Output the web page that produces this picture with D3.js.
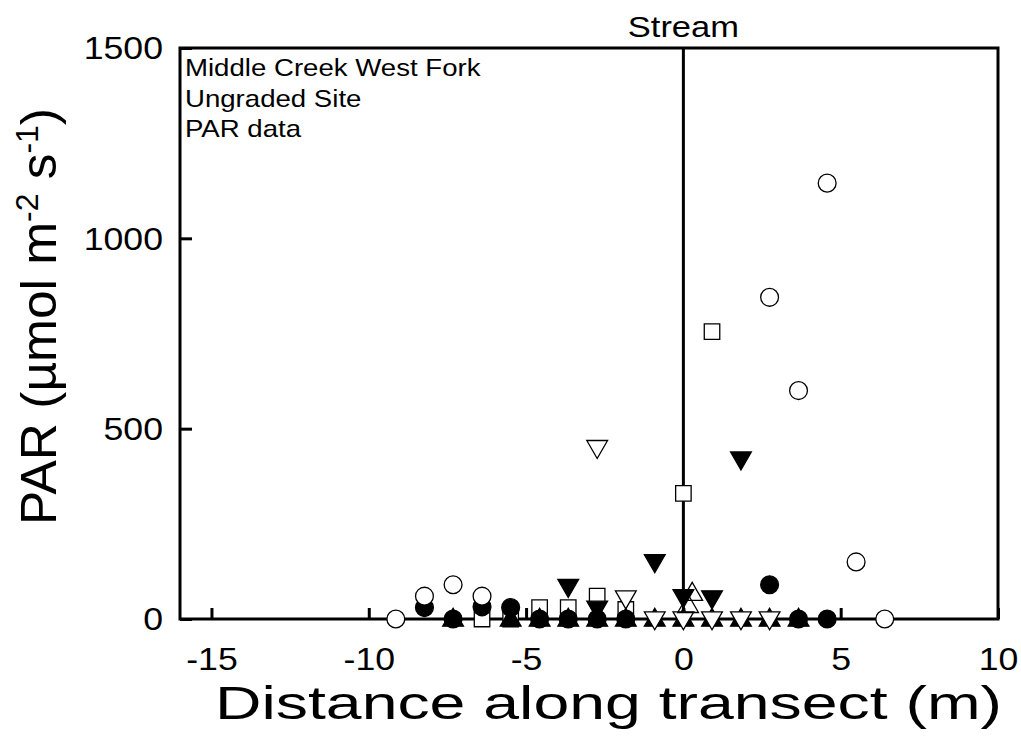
<!DOCTYPE html>
<html>
<head>
<meta charset="utf-8">
<script src="https://cdn.jsdelivr.net/npm/d3@7"></script>
<style>
  body { margin: 0; background: #fff; }
  text { font-family: "Liberation Sans", Arial, sans-serif; fill: #000; }
</style>
</head>
<body>
<div id="chart"></div>
<script>
// transect stations (3 ft apart), metres
const distances = [-9.14, -8.23, -7.32, -6.40, -5.49, -4.57, -3.66, -2.74, -1.83, -0.91, 0, 0.91, 1.83, 2.74, 3.66, 4.57, 5.49, 6.40];

// PAR per station, null = no reading
const openSquare   = [null, null, null, 0, 0, 30, 30, 60, 25, null, 330, 755, null, null, null, null, null, null];
const filledCircle = [null, 30, 0, 32, 30, 0, 0, 0, 0, null, null, null, null, 90, 0, 0, null, null];
const filledTriUp  = [null, null, 0, null, 0, 0, 0, 0, 0, 0, 0, 0, 0, 0, 0, null, null, null];
const filledTriDn  = [null, null, null, null, null, null, 85, 28, null, 150, 58, 55, 420, null, null, null, null, null];
const openTriDn    = [null, null, null, null, null, null, null, 450, 55, 0, 0, 0, 0, 0, null, null, null, null];
const openCircle   = [0, 60, 90, 60, null, null, null, null, null, null, null, null, null, 845, 600, 1145, 150, 0];
const openTriUpX   = [0.28, 0.15];
const openTriUp    = [68, 36];

const xTicks = [-15, -10, -5, 0, 5, 10];
const yTicks = [0, 500, 1000, 1500];
const noteLines = ["Middle Creek West Fork", "Ungraded Site", "PAR data"];

const margin = { top: 48, right: 23, bottom: 131, left: 180 };
const width = 1021 - margin.left - margin.right;
const height = 750 - margin.top - margin.bottom;
const stretch = 1.15; // the original lettering is a bit wide

const svg = d3.select("#chart").append("svg")
  .attr("width", 1021)
  .attr("height", 750);

const g = svg.append("g")
  .attr("transform", `translate(${margin.left},${margin.top})`);

const x = d3.scaleLinear().domain([-16, 10]).range([0, width]);
const y = d3.scaleLinear().domain([0, 1500]).range([height, 0]);

// ticks point inward
const xAxis = g.append("g")
  .attr("transform", `translate(0,${height})`)
  .call(d3.axisBottom(x).tickValues(xTicks).tickFormat((d) => String(d))
    .tickSizeInner(-11).tickSizeOuter(0));
const yAxis = g.append("g")
  .call(d3.axisLeft(y).tickValues(yTicks).tickFormat((d) => String(d))
    .tickSizeInner(-12).tickSizeOuter(0));

[xAxis, yAxis].forEach((ax) => {
  ax.select(".domain").remove();
  ax.selectAll("line").attr("stroke", "#000").attr("stroke-width", 3);
  ax.selectAll("text")
    .attr("font-size", 31)
    .attr("font-family", "Liberation Sans, Arial, sans-serif");
});
xAxis.selectAll("text")
  .attr("y", 0).attr("dy", 0)
  .attr("transform", `translate(0,51) scale(${stretch},1)`);
yAxis.selectAll("text")
  .attr("x", 0).attr("dy", "0.35em")
  .attr("transform", `translate(-17,0) scale(${stretch},1)`);

// frame
g.append("rect")
  .attr("width", width)
  .attr("height", height)
  .attr("fill", "none")
  .attr("stroke", "#000")
  .attr("stroke-width", 3);

// stream line at 0
g.append("line")
  .attr("x1", x(0)).attr("x2", x(0))
  .attr("y1", 0).attr("y2", height)
  .attr("stroke", "#000")
  .attr("stroke-width", 3);

g.append("text")
  .attr("transform", `translate(${x(0)},-11) scale(${stretch},1)`)
  .attr("text-anchor", "middle")
  .attr("font-size", 30)
  .text("Stream");

noteLines.forEach((t, i) => {
  g.append("text")
    .attr("transform", `translate(5,${28 + i * 30.5}) scale(${stretch},1)`)
    .attr("font-size", 24)
    .text(t);
});

const sym = (type, size) => d3.symbol().type(type).size(size)();
const triDown = {
  draw(ctx, size) {
    const r = Math.sqrt(size / (3 * Math.sqrt(3) / 4)) / 2;
    const h = r * Math.sqrt(3) / 2;
    ctx.moveTo(-r, -h * 0.8);
    ctx.lineTo(r, -h * 0.8);
    ctx.lineTo(0, h * 1.2);
    ctx.closePath();
  }
};
const triUp = {
  draw(ctx, size) {
    const r = Math.sqrt(size / (3 * Math.sqrt(3) / 4)) / 2;
    const h = r * Math.sqrt(3) / 2;
    ctx.moveTo(-r, h * 0.8);
    ctx.lineTo(r, h * 0.8);
    ctx.lineTo(0, -h * 1.2);
    ctx.closePath();
  }
};

const series = [
  { vals: openSquare, type: d3.symbolSquare, size: 240, fill: "#fff" },
  { vals: filledCircle, type: d3.symbolCircle, size: 250, fill: "#000" },
  { vals: filledTriUp, type: triUp, size: 560, fill: "#000" },
  { vals: filledTriDn, type: triDown, size: 560, fill: "#000" },
  { vals: openTriDn, type: triDown, size: 560, fill: "#fff" },
  { vals: openCircle, type: d3.symbolCircle, size: 250, fill: "#fff" }
];

series.forEach((s) => {
  const pts = distances.map((d, i) => ({ d, v: s.vals[i] })).filter((p) => p.v !== null);
  g.append("g").selectAll("path")
    .data(pts)
    .join("path")
    .attr("transform", (p) => `translate(${x(p.d)},${y(p.v)})`)
    .attr("d", sym(s.type, s.size))
    .attr("fill", s.fill)
    .attr("stroke", "#000")
    .attr("stroke-width", 1.3);
});

g.append("g").selectAll("path")
  .data(openTriUpX.map((d, i) => ({ d, v: openTriUp[i] })))
  .join("path")
  .attr("transform", (p) => `translate(${x(p.d)},${y(p.v)})`)
  .attr("d", sym(triUp, 560))
  .attr("fill", "none")
  .attr("stroke", "#000")
  .attr("stroke-width", 1.3);

// axis titles
svg.append("text")
  .attr("x", 215)
  .attr("y", 719)
  .attr("font-size", 46)
  .attr("textLength", 787)
  .attr("lengthAdjust", "spacingAndGlyphs")
  .text("Distance along transect (m)");

const yt = svg.append("text")
  .attr("transform", `translate(56,525) rotate(-90)`)
  .attr("font-size", 50)
  .attr("textLength", 417)
  .attr("lengthAdjust", "spacingAndGlyphs");
yt.append("tspan").text("PAR (\u00b5mol m");
yt.append("tspan").attr("font-size", 31).attr("dy", -18).text("-2");
yt.append("tspan").attr("dy", 18).text(" s");
yt.append("tspan").attr("font-size", 31).attr("dy", -18).text("-1");
yt.append("tspan").attr("dy", 18).text(")");
</script>
</body>
</html>
